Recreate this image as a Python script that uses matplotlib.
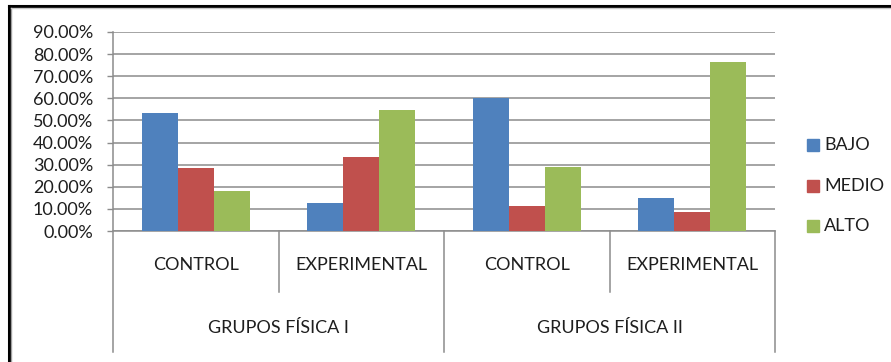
import matplotlib
matplotlib.use("Agg")
import matplotlib.pyplot as plt
from matplotlib.lines import Line2D
from matplotlib.patches import Rectangle
import numpy as np

plt.rcParams['font.family'] = ['Lato', 'DejaVu Sans']

# Data
subgroups = ["CONTROL", "EXPERIMENTAL", "CONTROL", "EXPERIMENTAL"]
groups = ["GRUPOS FÍSICA I", "GRUPOS FÍSICA II"]
levels = ["BAJO", "MEDIO", "ALTO"]
bajo = [0.534, 0.126, 0.600, 0.150]
medio = [0.287, 0.335, 0.111, 0.086]
alto = [0.183, 0.545, 0.291, 0.763]
yticks = [0.0, 0.1, 0.2, 0.3, 0.4, 0.5, 0.6, 0.7, 0.8, 0.9]

colors = ["#4F81BD", "#C0504D", "#9BBB59"]
grid_col = "#8C8C8C"
text_col = "#1E1E1E"

W, H = 891, 362
fig = plt.figure(figsize=(W / 100, H / 100), dpi=100)


def fx(px):
    return px / W


def fy(py):
    return 1 - py / H


ax = fig.add_axes([fx(113), fy(231), fx(775) - fx(113), fy(32) - fy(231)])

x = np.arange(len(subgroups))
bw = 0.2175
for i, (vals, col) in enumerate(zip([bajo, medio, alto], colors)):
    ax.bar(x + (i - 1) * bw, vals, width=bw, color=col, zorder=3, linewidth=0)

ax.set_xlim(-0.5, len(subgroups) - 0.5)
ax.set_ylim(0, 0.9)
ax.set_yticks(yticks)
ax.set_yticklabels([f"{v * 100:.2f}%" for v in yticks], fontsize=13, color=text_col)
ax.tick_params(axis='y', length=4.3, width=1.0, color=grid_col, pad=10)
ax.set_xticks([])
ax.yaxis.grid(True, color=grid_col, linewidth=1.1, zorder=0)
ax.set_axisbelow(True)
for s in ['top', 'right', 'left']:
    ax.spines[s].set_visible(False)
ax.spines['bottom'].set_color(grid_col)
ax.spines['bottom'].set_linewidth(1.1)

# Vertical axis line, extended down through the category label area
axh = 231 - 32
low_outer = -(352 - 231) / axh
low_inner = -(292 - 231) / axh
trans = ax.get_xaxis_transform()
ax.add_line(Line2D([-0.5, -0.5], [1, low_outer], transform=trans, color=grid_col,
                   lw=1.1, clip_on=False))
for xv in [1.5, 3.5]:
    ax.add_line(Line2D([xv, xv], [0, low_outer], transform=trans, color=grid_col,
                       lw=1.1, clip_on=False))
for xv in [0.5, 2.5]:
    ax.add_line(Line2D([xv, xv], [0, low_inner], transform=trans, color=grid_col,
                       lw=1.1, clip_on=False))

# Category labels (two levels)
for xi, lab in zip(x, subgroups):
    ax.text(xi, -(265 - 231) / axh, lab, transform=trans, ha='center', va='center',
            fontsize=13, color=text_col)
for gi, lab in enumerate(groups):
    ax.text(gi * 2 + 0.5, -(328 - 231) / axh, lab, transform=trans, ha='center',
            va='center', fontsize=13, color=text_col)

# Legend
for i, (lab, col) in enumerate(zip(levels, colors)):
    cy = 145 + i * 40.5
    fig.patches.append(Rectangle((fx(807), fy(cy + 6)), fx(12), 12 / H,
                                 transform=fig.transFigure, color=col))
    fig.text(fx(824), fy(cy), lab, ha='left', va='center', fontsize=13,
             color=text_col)

# Outer frame (left and top edges)
fig.add_artist(Line2D([fx(8.5), fx(8.5)], [0, fy(6)], transform=fig.transFigure,
                      color='black', lw=2.2))
fig.add_artist(Line2D([fx(8.5), 1], [fy(6), fy(6)], transform=fig.transFigure,
                      color='black', lw=2.2))
fig.add_artist(Line2D([fx(11), fx(11)], [0, fy(8)], transform=fig.transFigure,
                      color='#A0A0A0', lw=1.0))
fig.add_artist(Line2D([fx(11), 1], [fy(8), fy(8)], transform=fig.transFigure,
                      color='#C8C8C8', lw=1.0))

fig.savefig("out.png", dpi=100, facecolor='white')
